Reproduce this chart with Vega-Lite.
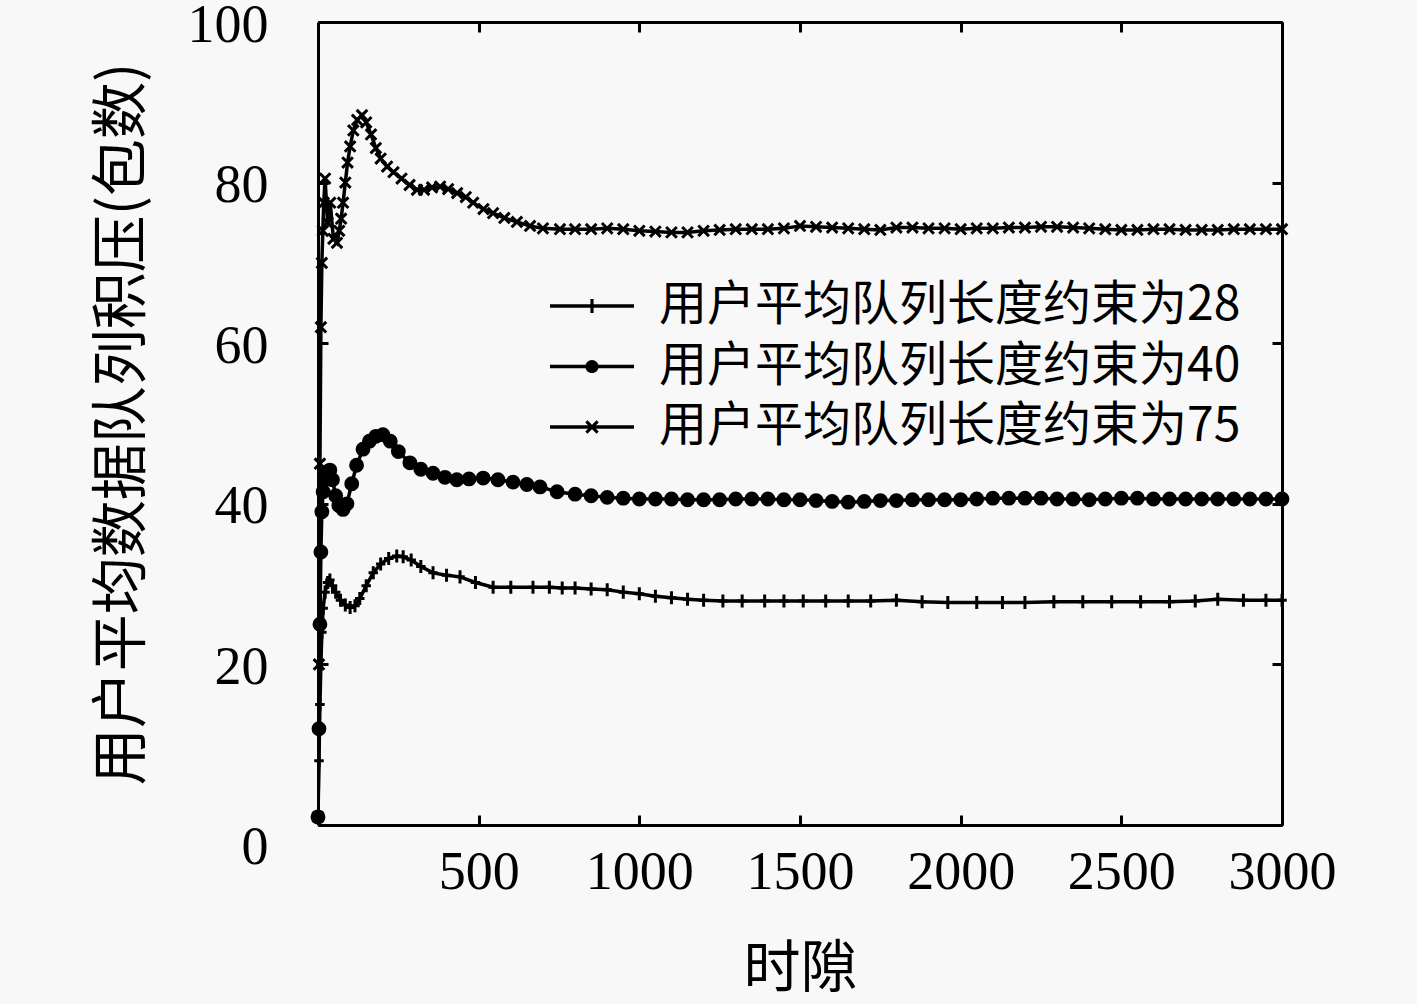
{
  "$schema": "https://vega.github.io/schema/vega-lite/v6.json",
  "width": 964,
  "height": 803,
  "autosize": "none",
  "padding": {"left": 318, "top": 22, "right": 135, "bottom": 179},
  "background": "#f8f8f8",
  "config": {
    "view": {"stroke": null},
    "font": "Liberation Serif",
    "axis": {
      "grid": false,
      "domainColor": "black",
      "domainWidth": 3,
      "tickColor": "black",
      "tickWidth": 3,
      "tickSize": -10,
      "labelColor": "black",
      "labelFont": "Liberation Serif",
      "labelFontSize": 54,
      "labelOverlap": false,
      "labelFlush": false,
      "labelBound": false,
      "titleColor": "black",
      "titleFont": "Noto Sans CJK SC",
      "titleFontSize": 57,
      "titleFontWeight": "normal"
    }
  },
  "data": {
    "values": [
      {"t": 0, "v": 1, "s": "用户平均队列长度约束为75"},
      {"t": 3, "v": 20, "s": "用户平均队列长度约束为75"},
      {"t": 6, "v": 45, "s": "用户平均队列长度约束为75"},
      {"t": 9, "v": 62, "s": "用户平均队列长度约束为75"},
      {"t": 12, "v": 70, "s": "用户平均队列长度约束为75"},
      {"t": 15, "v": 74, "s": "用户平均队列长度约束为75"},
      {"t": 18, "v": 77.5, "s": "用户平均队列长度约束为75"},
      {"t": 22, "v": 80.5, "s": "用户平均队列长度约束为75"},
      {"t": 30, "v": 75, "s": "用户平均队列长度约束为75"},
      {"t": 38, "v": 77.5, "s": "用户平均队列长度约束为75"},
      {"t": 48, "v": 73, "s": "用户平均队列长度约束为75"},
      {"t": 59, "v": 72.5, "s": "用户平均队列长度约束为75"},
      {"t": 66, "v": 74, "s": "用户平均队列长度约束为75"},
      {"t": 72, "v": 75.5, "s": "用户平均队列长度约束为75"},
      {"t": 78, "v": 77.5, "s": "用户平均队列长度约束为75"},
      {"t": 85, "v": 80, "s": "用户平均队列长度约束为75"},
      {"t": 92, "v": 82.5, "s": "用户平均队列长度约束为75"},
      {"t": 100, "v": 84.5, "s": "用户平均队列长度约束为75"},
      {"t": 110, "v": 86.5, "s": "用户平均队列长度约束为75"},
      {"t": 122, "v": 87.8, "s": "用户平均队列长度约束为75"},
      {"t": 137, "v": 88.4, "s": "用户平均队列长度约束为75"},
      {"t": 150, "v": 87.5, "s": "用户平均队列长度约束为75"},
      {"t": 165, "v": 86, "s": "用户平均队列长度约束为75"},
      {"t": 180, "v": 84.3, "s": "用户平均队列长度约束为75"},
      {"t": 195, "v": 83, "s": "用户平均队列长度约束为75"},
      {"t": 215, "v": 82, "s": "用户平均队列长度约束为75"},
      {"t": 235, "v": 81.3, "s": "用户平均队列长度约束为75"},
      {"t": 260, "v": 80.5, "s": "用户平均队列长度约束为75"},
      {"t": 285, "v": 79.7, "s": "用户平均队列长度约束为75"},
      {"t": 308, "v": 79.1, "s": "用户平均队列长度约束为75"},
      {"t": 330, "v": 79.1, "s": "用户平均队列长度约束为75"},
      {"t": 355, "v": 79.4, "s": "用户平均队列长度约束为75"},
      {"t": 380, "v": 79.5, "s": "用户平均队列长度约束为75"},
      {"t": 405, "v": 79.2, "s": "用户平均队列长度约束为75"},
      {"t": 433, "v": 78.7, "s": "用户平均队列长度约束为75"},
      {"t": 460, "v": 78.2, "s": "用户平均队列长度约束为75"},
      {"t": 483, "v": 77.5, "s": "用户平均队列长度约束为75"},
      {"t": 515, "v": 76.7, "s": "用户平均队列长度约束为75"},
      {"t": 545, "v": 76.2, "s": "用户平均队列长度约束为75"},
      {"t": 580, "v": 75.6, "s": "用户平均队列长度约束为75"},
      {"t": 619, "v": 75.1, "s": "用户平均队列长度约束为75"},
      {"t": 660, "v": 74.6, "s": "用户平均队列长度约束为75"},
      {"t": 700, "v": 74.3, "s": "用户平均队列长度约束为75"},
      {"t": 753, "v": 74.2, "s": "用户平均队列长度约束为75"},
      {"t": 800, "v": 74.2, "s": "用户平均队列长度约束为75"},
      {"t": 850, "v": 74.2, "s": "用户平均队列长度约束为75"},
      {"t": 900, "v": 74.3, "s": "用户平均队列长度约束为75"},
      {"t": 950, "v": 74.2, "s": "用户平均队列长度约束为75"},
      {"t": 1000, "v": 74.0, "s": "用户平均队列长度约束为75"},
      {"t": 1050, "v": 73.9, "s": "用户平均队列长度约束为75"},
      {"t": 1100, "v": 73.8, "s": "用户平均队列长度约束为75"},
      {"t": 1150, "v": 73.8, "s": "用户平均队列长度约束为75"},
      {"t": 1200, "v": 74.0, "s": "用户平均队列长度约束为75"},
      {"t": 1250, "v": 74.1, "s": "用户平均队列长度约束为75"},
      {"t": 1300, "v": 74.2, "s": "用户平均队列长度约束为75"},
      {"t": 1350, "v": 74.2, "s": "用户平均队列长度约束为75"},
      {"t": 1400, "v": 74.2, "s": "用户平均队列长度约束为75"},
      {"t": 1450, "v": 74.3, "s": "用户平均队列长度约束为75"},
      {"t": 1500, "v": 74.6, "s": "用户平均队列长度约束为75"},
      {"t": 1550, "v": 74.5, "s": "用户平均队列长度约束为75"},
      {"t": 1600, "v": 74.4, "s": "用户平均队列长度约束为75"},
      {"t": 1650, "v": 74.3, "s": "用户平均队列长度约束为75"},
      {"t": 1700, "v": 74.2, "s": "用户平均队列长度约束为75"},
      {"t": 1750, "v": 74.1, "s": "用户平均队列长度约束为75"},
      {"t": 1800, "v": 74.4, "s": "用户平均队列长度约束为75"},
      {"t": 1850, "v": 74.4, "s": "用户平均队列长度约束为75"},
      {"t": 1900, "v": 74.3, "s": "用户平均队列长度约束为75"},
      {"t": 1950, "v": 74.3, "s": "用户平均队列长度约束为75"},
      {"t": 2000, "v": 74.2, "s": "用户平均队列长度约束为75"},
      {"t": 2050, "v": 74.3, "s": "用户平均队列长度约束为75"},
      {"t": 2100, "v": 74.3, "s": "用户平均队列长度约束为75"},
      {"t": 2150, "v": 74.4, "s": "用户平均队列长度约束为75"},
      {"t": 2200, "v": 74.4, "s": "用户平均队列长度约束为75"},
      {"t": 2250, "v": 74.5, "s": "用户平均队列长度约束为75"},
      {"t": 2300, "v": 74.5, "s": "用户平均队列长度约束为75"},
      {"t": 2350, "v": 74.4, "s": "用户平均队列长度约束为75"},
      {"t": 2400, "v": 74.3, "s": "用户平均队列长度约束为75"},
      {"t": 2450, "v": 74.2, "s": "用户平均队列长度约束为75"},
      {"t": 2500, "v": 74.1, "s": "用户平均队列长度约束为75"},
      {"t": 2550, "v": 74.1, "s": "用户平均队列长度约束为75"},
      {"t": 2600, "v": 74.2, "s": "用户平均队列长度约束为75"},
      {"t": 2650, "v": 74.2, "s": "用户平均队列长度约束为75"},
      {"t": 2700, "v": 74.1, "s": "用户平均队列长度约束为75"},
      {"t": 2750, "v": 74.1, "s": "用户平均队列长度约束为75"},
      {"t": 2800, "v": 74.1, "s": "用户平均队列长度约束为75"},
      {"t": 2850, "v": 74.2, "s": "用户平均队列长度约束为75"},
      {"t": 2900, "v": 74.2, "s": "用户平均队列长度约束为75"},
      {"t": 2950, "v": 74.2, "s": "用户平均队列长度约束为75"},
      {"t": 3000, "v": 74.2, "s": "用户平均队列长度约束为75"},

      {"t": 0, "v": 1, "s": "用户平均队列长度约束为40"},
      {"t": 3, "v": 12, "s": "用户平均队列长度约束为40"},
      {"t": 6, "v": 25, "s": "用户平均队列长度约束为40"},
      {"t": 9, "v": 34, "s": "用户平均队列长度约束为40"},
      {"t": 12, "v": 39, "s": "用户平均队列长度约束为40"},
      {"t": 16, "v": 41.5, "s": "用户平均队列长度约束为40"},
      {"t": 22, "v": 43, "s": "用户平均队列长度约束为40"},
      {"t": 30, "v": 44, "s": "用户平均队列长度约束为40"},
      {"t": 37, "v": 44.2, "s": "用户平均队列长度约束为40"},
      {"t": 45, "v": 43, "s": "用户平均队列长度约束为40"},
      {"t": 55, "v": 41, "s": "用户平均队列长度约束为40"},
      {"t": 65, "v": 39.8, "s": "用户平均队列长度约束为40"},
      {"t": 78, "v": 39.3, "s": "用户平均队列长度约束为40"},
      {"t": 90, "v": 40, "s": "用户平均队列长度约束为40"},
      {"t": 105, "v": 42.5, "s": "用户平均队列长度约束为40"},
      {"t": 120, "v": 44.8, "s": "用户平均队列长度约束为40"},
      {"t": 140, "v": 46.8, "s": "用户平均队列长度约束为40"},
      {"t": 160, "v": 47.8, "s": "用户平均队列长度约束为40"},
      {"t": 180, "v": 48.4, "s": "用户平均队列长度约束为40"},
      {"t": 202, "v": 48.6, "s": "用户平均队列长度约束为40"},
      {"t": 225, "v": 47.8, "s": "用户平均队列长度约束为40"},
      {"t": 250, "v": 46.5, "s": "用户平均队列长度约束为40"},
      {"t": 286, "v": 45.1, "s": "用户平均队列长度约束为40"},
      {"t": 320, "v": 44.3, "s": "用户平均队列长度约束为40"},
      {"t": 358, "v": 43.8, "s": "用户平均队列长度约束为40"},
      {"t": 395, "v": 43.3, "s": "用户平均队列长度约束为40"},
      {"t": 432, "v": 43.0, "s": "用户平均队列长度约束为40"},
      {"t": 470, "v": 43.1, "s": "用户平均队列长度约束为40"},
      {"t": 514, "v": 43.2, "s": "用户平均队列长度约束为40"},
      {"t": 560, "v": 43.0, "s": "用户平均队列长度约束为40"},
      {"t": 607, "v": 42.7, "s": "用户平均队列长度约束为40"},
      {"t": 650, "v": 42.4, "s": "用户平均队列长度约束为40"},
      {"t": 691, "v": 42.1, "s": "用户平均队列长度约束为40"},
      {"t": 744, "v": 41.5, "s": "用户平均队列长度约束为40"},
      {"t": 800, "v": 41.2, "s": "用户平均队列长度约束为40"},
      {"t": 850, "v": 41.0, "s": "用户平均队列长度约束为40"},
      {"t": 900, "v": 40.8, "s": "用户平均队列长度约束为40"},
      {"t": 950, "v": 40.7, "s": "用户平均队列长度约束为40"},
      {"t": 1000, "v": 40.6, "s": "用户平均队列长度约束为40"},
      {"t": 1050, "v": 40.6, "s": "用户平均队列长度约束为40"},
      {"t": 1100, "v": 40.6, "s": "用户平均队列长度约束为40"},
      {"t": 1150, "v": 40.5, "s": "用户平均队列长度约束为40"},
      {"t": 1200, "v": 40.5, "s": "用户平均队列长度约束为40"},
      {"t": 1250, "v": 40.5, "s": "用户平均队列长度约束为40"},
      {"t": 1300, "v": 40.6, "s": "用户平均队列长度约束为40"},
      {"t": 1350, "v": 40.6, "s": "用户平均队列长度约束为40"},
      {"t": 1400, "v": 40.6, "s": "用户平均队列长度约束为40"},
      {"t": 1450, "v": 40.5, "s": "用户平均队列长度约束为40"},
      {"t": 1500, "v": 40.5, "s": "用户平均队列长度约束为40"},
      {"t": 1550, "v": 40.4, "s": "用户平均队列长度约束为40"},
      {"t": 1600, "v": 40.3, "s": "用户平均队列长度约束为40"},
      {"t": 1650, "v": 40.2, "s": "用户平均队列长度约束为40"},
      {"t": 1700, "v": 40.3, "s": "用户平均队列长度约束为40"},
      {"t": 1750, "v": 40.4, "s": "用户平均队列长度约束为40"},
      {"t": 1800, "v": 40.4, "s": "用户平均队列长度约束为40"},
      {"t": 1850, "v": 40.5, "s": "用户平均队列长度约束为40"},
      {"t": 1900, "v": 40.5, "s": "用户平均队列长度约束为40"},
      {"t": 1950, "v": 40.5, "s": "用户平均队列长度约束为40"},
      {"t": 2000, "v": 40.5, "s": "用户平均队列长度约束为40"},
      {"t": 2050, "v": 40.6, "s": "用户平均队列长度约束为40"},
      {"t": 2100, "v": 40.7, "s": "用户平均队列长度约束为40"},
      {"t": 2150, "v": 40.7, "s": "用户平均队列长度约束为40"},
      {"t": 2200, "v": 40.7, "s": "用户平均队列长度约束为40"},
      {"t": 2250, "v": 40.7, "s": "用户平均队列长度约束为40"},
      {"t": 2300, "v": 40.6, "s": "用户平均队列长度约束为40"},
      {"t": 2350, "v": 40.6, "s": "用户平均队列长度约束为40"},
      {"t": 2400, "v": 40.5, "s": "用户平均队列长度约束为40"},
      {"t": 2450, "v": 40.6, "s": "用户平均队列长度约束为40"},
      {"t": 2500, "v": 40.7, "s": "用户平均队列长度约束为40"},
      {"t": 2550, "v": 40.7, "s": "用户平均队列长度约束为40"},
      {"t": 2600, "v": 40.6, "s": "用户平均队列长度约束为40"},
      {"t": 2650, "v": 40.6, "s": "用户平均队列长度约束为40"},
      {"t": 2700, "v": 40.6, "s": "用户平均队列长度约束为40"},
      {"t": 2750, "v": 40.6, "s": "用户平均队列长度约束为40"},
      {"t": 2800, "v": 40.6, "s": "用户平均队列长度约束为40"},
      {"t": 2850, "v": 40.6, "s": "用户平均队列长度约束为40"},
      {"t": 2900, "v": 40.6, "s": "用户平均队列长度约束为40"},
      {"t": 2950, "v": 40.6, "s": "用户平均队列长度约束为40"},
      {"t": 3000, "v": 40.6, "s": "用户平均队列长度约束为40"},

      {"t": 0, "v": 1, "s": "用户平均队列长度约束为28"},
      {"t": 3, "v": 8, "s": "用户平均队列长度约束为28"},
      {"t": 6, "v": 15, "s": "用户平均队列长度约束为28"},
      {"t": 9, "v": 20, "s": "用户平均队列长度约束为28"},
      {"t": 12, "v": 24, "s": "用户平均队列长度约束为28"},
      {"t": 16, "v": 27, "s": "用户平均队列长度约束为28"},
      {"t": 22, "v": 29, "s": "用户平均队列长度约束为28"},
      {"t": 30, "v": 30.2, "s": "用户平均队列长度约束为28"},
      {"t": 37, "v": 30.5, "s": "用户平均队列长度约束为28"},
      {"t": 45, "v": 29.8, "s": "用户平均队列长度约束为28"},
      {"t": 55, "v": 29, "s": "用户平均队列长度约束为28"},
      {"t": 70, "v": 28, "s": "用户平均队列长度约束为28"},
      {"t": 85, "v": 27.4, "s": "用户平均队列长度约束为28"},
      {"t": 100, "v": 27.1, "s": "用户平均队列长度约束为28"},
      {"t": 115, "v": 27.3, "s": "用户平均队列长度约束为28"},
      {"t": 130, "v": 28.2, "s": "用户平均队列长度约束为28"},
      {"t": 150, "v": 29.8, "s": "用户平均队列长度约束为28"},
      {"t": 172, "v": 31.4, "s": "用户平均队列长度约束为28"},
      {"t": 195, "v": 32.5, "s": "用户平均队列长度约束为28"},
      {"t": 220, "v": 33.2, "s": "用户平均队列长度约束为28"},
      {"t": 245, "v": 33.5, "s": "用户平均队列长度约束为28"},
      {"t": 265, "v": 33.4, "s": "用户平均队列长度约束为28"},
      {"t": 290, "v": 33.0, "s": "用户平均队列长度约束为28"},
      {"t": 320, "v": 32.2, "s": "用户平均队列长度约束为28"},
      {"t": 358, "v": 31.4, "s": "用户平均队列长度约束为28"},
      {"t": 400, "v": 31.1, "s": "用户平均队列长度约束为28"},
      {"t": 442, "v": 30.9, "s": "用户平均队列长度约束为28"},
      {"t": 490, "v": 30.2, "s": "用户平均队列长度约束为28"},
      {"t": 545, "v": 29.6, "s": "用户平均队列长度约束为28"},
      {"t": 600, "v": 29.6, "s": "用户平均队列长度约束为28"},
      {"t": 669, "v": 29.6, "s": "用户平均队列长度约束为28"},
      {"t": 720, "v": 29.6, "s": "用户平均队列长度约束为28"},
      {"t": 760, "v": 29.5, "s": "用户平均队列长度约束为28"},
      {"t": 800, "v": 29.5, "s": "用户平均队列长度约束为28"},
      {"t": 850, "v": 29.4, "s": "用户平均队列长度约束为28"},
      {"t": 900, "v": 29.3, "s": "用户平均队列长度约束为28"},
      {"t": 950, "v": 29.0, "s": "用户平均队列长度约束为28"},
      {"t": 1000, "v": 28.8, "s": "用户平均队列长度约束为28"},
      {"t": 1050, "v": 28.5, "s": "用户平均队列长度约束为28"},
      {"t": 1100, "v": 28.3, "s": "用户平均队列长度约束为28"},
      {"t": 1150, "v": 28.1, "s": "用户平均队列长度约束为28"},
      {"t": 1200, "v": 28.0, "s": "用户平均队列长度约束为28"},
      {"t": 1260, "v": 27.9, "s": "用户平均队列长度约束为28"},
      {"t": 1320, "v": 27.9, "s": "用户平均队列长度约束为28"},
      {"t": 1390, "v": 27.9, "s": "用户平均队列长度约束为28"},
      {"t": 1450, "v": 27.9, "s": "用户平均队列长度约束为28"},
      {"t": 1510, "v": 27.9, "s": "用户平均队列长度约束为28"},
      {"t": 1580, "v": 27.9, "s": "用户平均队列长度约束为28"},
      {"t": 1650, "v": 27.9, "s": "用户平均队列长度约束为28"},
      {"t": 1720, "v": 27.9, "s": "用户平均队列长度约束为28"},
      {"t": 1800, "v": 28.0, "s": "用户平均队列长度约束为28"},
      {"t": 1880, "v": 27.8, "s": "用户平均队列长度约束为28"},
      {"t": 1960, "v": 27.7, "s": "用户平均队列长度约束为28"},
      {"t": 2050, "v": 27.7, "s": "用户平均队列长度约束为28"},
      {"t": 2130, "v": 27.7, "s": "用户平均队列长度约束为28"},
      {"t": 2200, "v": 27.7, "s": "用户平均队列长度约束为28"},
      {"t": 2290, "v": 27.8, "s": "用户平均队列长度约束为28"},
      {"t": 2380, "v": 27.8, "s": "用户平均队列长度约束为28"},
      {"t": 2470, "v": 27.8, "s": "用户平均队列长度约束为28"},
      {"t": 2560, "v": 27.8, "s": "用户平均队列长度约束为28"},
      {"t": 2650, "v": 27.8, "s": "用户平均队列长度约束为28"},
      {"t": 2730, "v": 27.9, "s": "用户平均队列长度约束为28"},
      {"t": 2800, "v": 28.1, "s": "用户平均队列长度约束为28"},
      {"t": 2880, "v": 28.0, "s": "用户平均队列长度约束为28"},
      {"t": 2950, "v": 28.0, "s": "用户平均队列长度约束为28"},
      {"t": 3000, "v": 28.0, "s": "用户平均队列长度约束为28"}
    ]
  },
  "layer": [
    {
      "mark": {"type": "line", "color": "black", "strokeWidth": 3.5, "clip": true},
      "encoding": {
        "x": {
          "field": "t", "type": "quantitative", "title": "时隙",
          "scale": {"domain": [0, 3000], "nice": false},
          "axis": {"orient": "bottom", "values": [500, 1000, 1500, 2000, 2500, 3000], "format": "d", "labelPadding": 30, "titlePadding": 42}
        },
        "y": {
          "field": "v", "type": "quantitative", "title": "用户平均数据队列积压(包数)",
          "scale": {"domain": [0, 100], "nice": false},
          "axis": {
            "orient": "left", "values": [0, 20, 40, 60, 80, 100], "format": "d", "labelPadding": 60,
            "labelOffset": {"condition": {"test": "datum.value === 0", "value": 22}, "value": 3},
            "titlePadding": 36
          }
        },
        "detail": {"field": "s"}
      }
    },
    {
      "mark": {"type": "point", "filled": false, "fill": "black", "stroke": "black", "strokeWidth": 3, "size": 140, "opacity": 1},
      "encoding": {
        "x": {"field": "t", "type": "quantitative", "axis": {"orient": "top", "labels": false, "title": null, "values": [500, 1000, 1500, 2000, 2500, 3000]}},
        "y": {"field": "v", "type": "quantitative", "axis": {"orient": "right", "labels": false, "title": null, "values": [0, 20, 40, 60, 80, 100]}},
        "shape": {
          "field": "s",
          "scale": {
            "domain": ["用户平均队列长度约束为28", "用户平均队列长度约束为40", "用户平均队列长度约束为75"],
            "range": ["M-0.8,0L0.8,0M0,-1.1L0,1.1", "circle", "M-0.9,-0.9L0.9,0.9M-0.9,0.9L0.9,-0.9"]
          },
          "legend": null
        }
      }
    },
    {
      "transform": [{"filter": "datum.t < 0"}],
      "mark": {"type": "point", "filled": true, "color": "black"},
      "encoding": {
        "shape": {
          "field": "s",
          "scale": {
            "domain": ["用户平均队列长度约束为28", "用户平均队列长度约束为40", "用户平均队列长度约束为75"],
            "range": [
              "M-3.5,-0.14H3.5V0.14H-3.5ZM-0.13,-0.58H0.13V0.58H-0.13Z",
              "M-3.5,-0.14H3.5V0.14H-3.5ZM0.55,0A0.55,0.55,0,1,1,-0.55,0A0.55,0.55,0,1,1,0.55,0Z",
              "M-3.5,-0.14H3.5V0.14H-3.5ZM-0.38,-0.56L0.56,0.38L0.38,0.56L-0.56,-0.38ZM-0.38,0.56L-0.56,0.38L0.38,-0.56L0.56,-0.38Z"
            ]
          },
          "legend": {
            "title": null,
            "orient": "none",
            "legendX": 250,
            "legendY": 260,
            "padding": 0,
            "symbolSize": 576,
            "symbolFillColor": "black",
            "symbolOpacity": 1,
            "labelOffset": 43,
            "labelFont": "Noto Sans CJK SC",
            "labelFontSize": 48,
            "labelColor": "black",
            "labelLimit": 0,
            "rowPadding": 12.5
          }
        }
      }
    }
  ],
  "resolve": {
    "scale": {"shape": "independent"},
    "axis": {"x": "independent", "y": "independent"}
  }
}
